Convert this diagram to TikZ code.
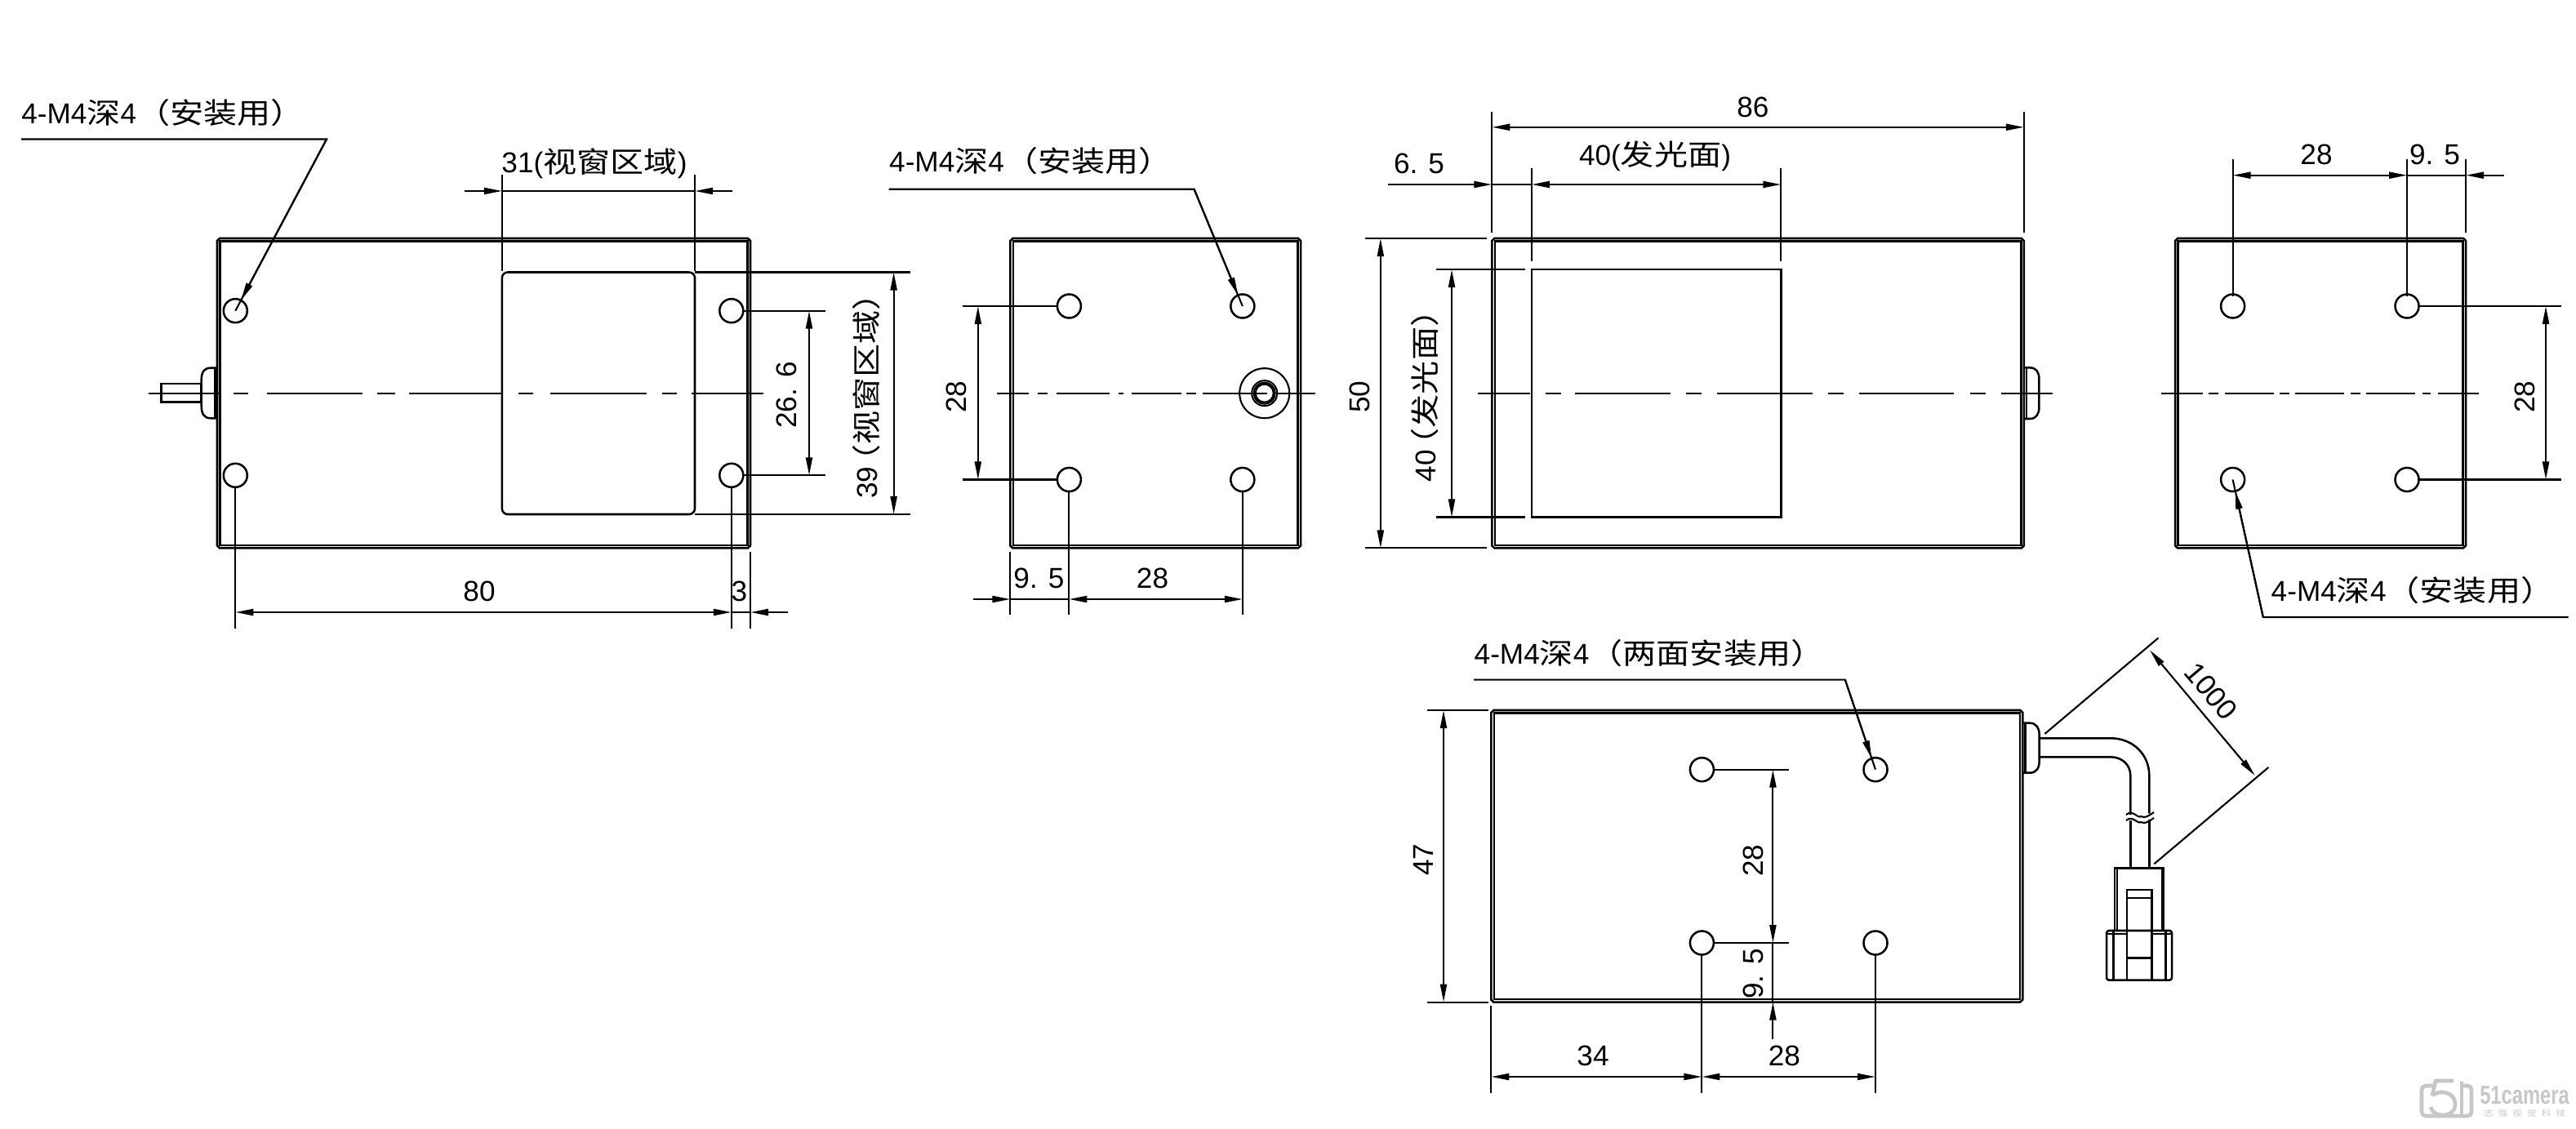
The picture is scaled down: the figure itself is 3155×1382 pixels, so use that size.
\documentclass[tikz,border=0pt]{standalone}
\usepackage{fontspec}
\setmainfont{Liberation Sans}
\newfontfamily\cjk[FakeStretch=1.17]{Noto Sans CJK SC}
\newfontfamily\markfont[FakeStretch=0.75]{Liberation Sans}
\newcommand{\zh}[1]{{\cjk #1}}
\usetikzlibrary{arrows.meta,calc}
\definecolor{logogrey}{gray}{0.78}
\tikzset{
  part/.style={line width=0.72pt,line join=miter},
  thinline/.style={line width=0.6pt},
  centre/.style={line width=0.65pt},
  dimboth/.style={thinline,{Stealth[length=2.2mm,width=0.8mm,inset=0pt]}-{Stealth[length=2.2mm,width=0.8mm,inset=0pt]}},
  dimto/.style={thinline,-{Stealth[length=2.2mm,width=0.8mm,inset=0pt]}},
  lbl/.style={inner sep=0pt,font=\fontsize{10}{12}\selectfont},
  logo/.style={logogrey,line width=1.35pt}
}
% body outline with chamfered corners and the inner edge lines
\newcommand{\housing}[4]{
  \draw[part] ({#1+3},#3) -- ({#2-3},#3) -- (#2,{#3+3}) -- (#2,{#4-3}) -- ({#2-3},#4) -- ({#1+3},#4) -- (#1,{#4-3}) -- (#1,{#3+3}) -- cycle;
  \draw[part] ({#1+3.5},{#3+3.5}) rectangle ({#2-3.5},{#4-3.5});
}
\newcommand{\hole}[2]{\draw[part] (#1,#2) circle (.145cm);}
\begin{document}
\begin{tikzpicture}[x=0.01cm,y=-0.01cm]
  \useasboundingbox (0,0) rectangle (3155,1382);

  % ---- view 1: window side
  \housing{266}{919}{292}{671.4}
  \foreach \x in {288.3,895.8} {
    \foreach \y in {380.7,582.3} {
      \hole{\x}{\y}
    }
  }
  \draw[part,rounded corners=.07cm] (614.8,333.5) rectangle (851,630);
  \foreach \a/\b in {182/271,286/304,326.5/444,462/484,501/615,635/653,673.5/792,811/829,847/935}
    \draw[centre] (\a,481.7) -- (\b,481.7);
  \draw[part] (197.7,470) rectangle (246.7,492.7);
  \draw[part] (265,450.7) -- (258,450.7) .. controls (250,450.7) and (246.7,456) .. (246.7,465) -- (246.7,497)
    .. controls (246.7,507) and (250,512.3) .. (258,512.3) -- (265,512.3);
  \draw[part] (263.3,450.7) -- (263.3,512.3);
  % dimensions
  \draw[thinline] (614.8,213.8) -- (614.8,332) (851,213.8) -- (851,332);
  \draw[dimto] (568.6,234) -- (614.8,234);
  \draw[dimto] (896.6,234) -- (851,234);
  \draw[thinline] (614.8,234) -- (851,234);
  \node[lbl] (winW) at (728,200) {31(\zh{视窗区域})};
  \draw[thinline] (851,333.5) -- (1115,333.5) (851,630) -- (1115,630);
  \draw[dimboth] (1094.6,333.5) -- (1094.6,630);
  \node[lbl,rotate=90] (winH) at (1061.6,475) {39\kern-.4em\zh{（视窗区域）}};
  \draw[thinline] (909.8,380.7) -- (1011,380.7) (909.8,582.3) -- (1011,582.3);
  \draw[dimboth] (991,380.7) -- (991,582.3);
  \node[lbl,rotate=90] (holeH) at (963,484) {26. 6};
  \draw[thinline] (288.3,595.5) -- (288.3,769.6) (895.8,595.5) -- (895.8,769.6) (919,676) -- (919,769.6);
  \draw[dimboth] (288.3,750) -- (895.8,750);
  \draw[dimto] (965,750) -- (919,750);
  \draw[thinline] (895.8,750) -- (919,750);
  \node[lbl] (holeW) at (587,724) {80};
  \node[lbl] (edgeW) at (905.4,724) {3};
  % leader
  \node[lbl,anchor=west] (noteA) at (25.7,138) {4-M4\zh{深}4\zh{（安装用）}};
  \coordinate (kneeA) at (400,170.5);
  \coordinate (holeA) at (288.3,380.7);
  \draw[thinline] (26,170.5) -- (kneeA) -- (holeA);
  \draw[dimto] (kneeA) -- ($(holeA)!.145cm!(kneeA)$);

  % ---- view 2: connector side
  \housing{1237.4}{1593}{292}{671.4}
  \foreach \x in {1309.4,1521.8} {
    \foreach \y in {375,587.5} {
      \hole{\x}{\y}
    }
  }
  \foreach \r in {.305,.155,.13,.11}
    \draw[thinline] (1548.7,481.7) circle (\r cm);
  \foreach \a/\b in {1221.4/1260,1271/1283,1293.5/1359,1370/1376,1386/1446.5,1453/1465,1473/1551.7,1565/1610.6}
    \draw[centre] (\a,481.7) -- (\b,481.7);
  \draw[thinline] (1178.7,375) -- (1295.4,375) (1178.7,587.5) -- (1295.4,587.5);
  \draw[dimboth] (1197.8,375) -- (1197.8,587.5);
  \node[lbl,rotate=90] (pitchB) at (1171,486) {28};
  \draw[thinline] (1237.4,676) -- (1237.4,752.7) (1309.4,602) -- (1309.4,752.7) (1521.8,602) -- (1521.8,752.7);
  \draw[dimto] (1191.5,734) -- (1237.4,734);
  \draw[thinline] (1237.4,734) -- (1309.4,734);
  \draw[dimboth] (1309.4,734) -- (1521.8,734);
  \node[lbl] (edgeB) at (1272.4,708) {9. 5};
  \node[lbl] (pitchBW) at (1411.5,708) {28};
  \node[lbl,anchor=west] (noteB) at (1088.5,197) {4-M4\zh{深}4\zh{（安装用）}};
  \coordinate (kneeB) at (1462.5,231.7);
  \coordinate (holeB) at (1521.8,375);
  \draw[thinline] (1088.5,231.7) -- (kneeB) -- (holeB);
  \draw[dimto] (kneeB) -- ($(holeB)!.145cm!(kneeB)$);

  % ---- view 3: light face
  \housing{1827.3}{2478.8}{292}{671.4}
  \draw[part] (1875.8,330) rectangle (2181.4,633.5);
  \foreach \a/\b in {1810/1874,1893/1912,1929/2046,2065/2084,2103/2220,2239/2258,2277/2393,2413/2432,2451/2514}
    \draw[centre] (\a,481.7) -- (\b,481.7);
  \draw[part] (2479,450.4) -- (2486,450.4) .. controls (2494,450.4) and (2497.4,456) .. (2497.4,464) -- (2497.4,499)
    .. controls (2497.4,507) and (2494,513) .. (2486,513) -- (2479,513);
  \draw[part] (2482,450.4) -- (2482,513);
  \draw[thinline] (1827.3,136.6) -- (1827.3,285) (2478.8,136.6) -- (2478.8,285);
  \draw[dimboth] (1827.3,155.8) -- (2478.8,155.8);
  \node[lbl] (lenC) at (2146.8,131) {86};
  \draw[thinline] (1875.8,206) -- (1875.8,319.6) (2181.4,206) -- (2181.4,319.6);
  \draw[dimboth] (1875.8,226) -- (2181.4,226);
  \draw[dimto] (1700.4,226) -- (1827.3,226);
  \draw[thinline] (1827.3,226) -- (1875.8,226);
  \node[lbl] (edgeC) at (1738,200.4) {6. 5};
  \node[lbl] (faceW) at (2027,191.5) {40(\zh{发光面})};
  \draw[thinline] (1671.7,292) -- (1821,292) (1671.7,671.4) -- (1821,671.4);
  \draw[dimboth] (1690.8,292) -- (1690.8,671.4);
  \node[lbl,rotate=90] (heightC) at (1665.3,486) {50};
  \draw[thinline] (1759,330) -- (1867.5,330) (1759,633.5) -- (1867.5,633.5);
  \draw[dimboth] (1778,330) -- (1778,633.5);
  \node[lbl,rotate=90] (faceH) at (1745,475) {40\kern-.4em\zh{（发光面）}};

  % ---- view 4: rear
  \housing{2664}{3020}{292}{671.4}
  \foreach \x in {2734.6,2948} {
    \foreach \y in {375,587.5} {
      \hole{\x}{\y}
    }
  }
  \foreach \a/\b in {2647.3/2698,2705/2717.3,2725/2785,2792.3/2804,2811/2870.7,2879/2890.7,2898/2958,2966.7/2977,2985.7/3036}
    \draw[centre] (\a,481.7) -- (\b,481.7);
  \draw[thinline] (2734.6,195) -- (2734.6,363) (2948,195) -- (2948,363) (3020,195) -- (3020,285);
  \draw[dimboth] (2734.6,214.7) -- (2948,214.7);
  \draw[dimto] (3066.7,214.7) -- (3020,214.7);
  \draw[thinline] (2948,214.7) -- (3020,214.7);
  \node[lbl] (pitchD) at (2837,189) {28};
  \node[lbl] (edgeD) at (2982,189) {9. 5};
  \draw[thinline] (2961,375) -- (3137,375) (2961,587.5) -- (3137,587.5);
  \draw[dimboth] (3118,375) -- (3118,587.5);
  \node[lbl,rotate=90] (pitchDH) at (3092,486) {28};
  \node[lbl,anchor=west] (noteD) at (2781,723) {4-M4\zh{深}4\zh{（安装用）}};
  \coordinate (kneeD) at (2771.8,756);
  \coordinate (holeD) at (2734.6,587.5);
  \draw[thinline] (3145.5,756) -- (kneeD) -- (holeD);
  \draw[dimto] (kneeD) -- ($(holeD)!.145cm!(kneeD)$);

  % ---- view 5: underside with cable
  \housing{1826.3}{2477.3}{870}{1227.6}
  \foreach \x in {2084.4,2297} {
    \foreach \y in {942.7,1155} {
      \hole{\x}{\y}
    }
  }
  \draw[part] (2478,885.7) -- (2486,885.7) .. controls (2494,885.7) and (2497.7,892) .. (2497.7,900) -- (2497.7,932)
    .. controls (2497.7,941) and (2494,946.7) .. (2486,946.7) -- (2478,946.7);
  \draw[part] (2480.5,885.7) -- (2480.5,946.7);
  % cable
  \draw[part] (2497.7,904.3) -- (2585,904.3) .. controls (2612,904.3) and (2632.3,924) .. (2632.3,950) -- (2632.3,996.7);
  \draw[part] (2497.7,927.3) -- (2585,927.3) .. controls (2599,927.3) and (2609.3,937) .. (2609.3,950) -- (2609.3,998);
  \draw[part] (2609.3,1005) -- (2609.3,1063.3) (2632.3,1004) -- (2632.3,1063.3);
  \foreach \dy in {0,7}
    \draw[thinline] (2604,{998+\dy}) .. controls (2612,{991+\dy}) and (2618,{1003+\dy}) .. (2622,{1000+\dy})
      .. controls (2627,{1003+\dy}) and (2632,{999+\dy}) .. (2638,{995+\dy});
  % plug
  \draw[part] (2590,1140) -- (2590,1063.3) -- (2650,1063.3) -- (2650,1140);
  \draw[part] (2593,1063.3) -- (2593,1140) (2648.5,1063.3) -- (2648.5,1140);
  \draw[part] (2605,1090) rectangle (2635.7,1173.3);
  \draw[part] (2605,1100) -- (2635.7,1100);
  \draw[part,rounded corners=.03cm] (2580,1200.7) -- (2580,1140) -- (2660,1140) -- (2660,1200.7) -- cycle;
  \draw[part] (2581,1144) -- (2605,1144) (2635.7,1144) -- (2659,1144);
  \draw[part] (2588.3,1140) -- (2588.3,1200.7) (2605,1173) -- (2605,1200.7) (2635.7,1173) -- (2635.7,1200.7) (2652.7,1140) -- (2652.7,1200.7);
  % dimensions
  \draw[thinline] (1747.7,870) -- (1822.8,870) (1747.7,1227.6) -- (1822.8,1227.6);
  \draw[dimboth] (1768,870) -- (1768,1227.6);
  \node[lbl,rotate=90] (heightE) at (1743.5,1053) {47};
  \draw[thinline] (2100,942.7) -- (2191,942.7) (2100,1155) -- (2191,1155);
  \draw[dimboth] (2171.4,942.7) -- (2171.4,1155);
  \node[lbl,rotate=90] (pitchE) at (2146.9,1054) {28};
  \draw[thinline] (2171.4,1155) -- (2171.4,1227.6);
  \draw[dimto] (2171.4,1273) -- (2171.4,1227.6);
  \node[lbl,rotate=90] (edgeE) at (2146.9,1193) {9. 5};
  \draw[thinline] (1826.3,1231.7) -- (1826.3,1339) (2084.4,1169) -- (2084.4,1339) (2297,1169) -- (2297,1339);
  \draw[dimboth] (1826.3,1319) -- (2084.4,1319);
  \draw[dimboth] (2084.4,1319) -- (2297,1319);
  \node[lbl] (offE) at (1951,1293) {34};
  \node[lbl] (pitchEW) at (2185.4,1293) {28};
  \draw[thinline] (2504.3,899) -- (2643.5,781.4) (2638.3,1058.3) -- (2778.3,940);
  \draw[dimboth] (2633,796.4) -- (2761.7,950);
  \node[lbl,rotate=-50] (cableL) at (2708,847) {1000};
  \node[lbl,anchor=west] (noteE) at (1805,800) {4-M4\zh{深}4\zh{（两面安装用）}};
  \coordinate (kneeE) at (2259.8,832.6);
  \coordinate (holeE) at (2297,942.7);
  \draw[thinline] (1805,832.6) -- (kneeE) -- (holeE);
  \draw[dimto] (kneeE) -- ($(holeE)!.145cm!(kneeE)$);

  % ---- mark in the corner
  \draw[logo,rounded corners=.05cm] (2982,1330) -- (2966,1330) -- (2966,1367) -- (3027,1367) -- (3027,1330) -- (3017,1330);
  \draw[logo] (2979,1342) -- (2983,1324) -- (3005,1324);
  \draw[logo] (2979,1342) .. controls (2986,1335) and (3007,1336) .. (3007,1353) .. controls (3007,1370) and (2980,1370) .. (2977,1356);
  \draw[logo] (3015,1325) -- (3015,1367);
  \node[lbl,logogrey,font=\fontsize{9}{10}\markfont\bfseries] (markA) at (3092,1342) {51camera};
  \node[lbl,logogrey,font=\fontsize{2.8}{3}\selectfont] (markB) at (3092,1364)
    {\makebox[1cm][s]{\zh{志}\hfill\zh{强}\hfill\zh{视}\hfill\zh{觉}\hfill\zh{科}\hfill\zh{技}}};
\end{tikzpicture}
\end{document}
